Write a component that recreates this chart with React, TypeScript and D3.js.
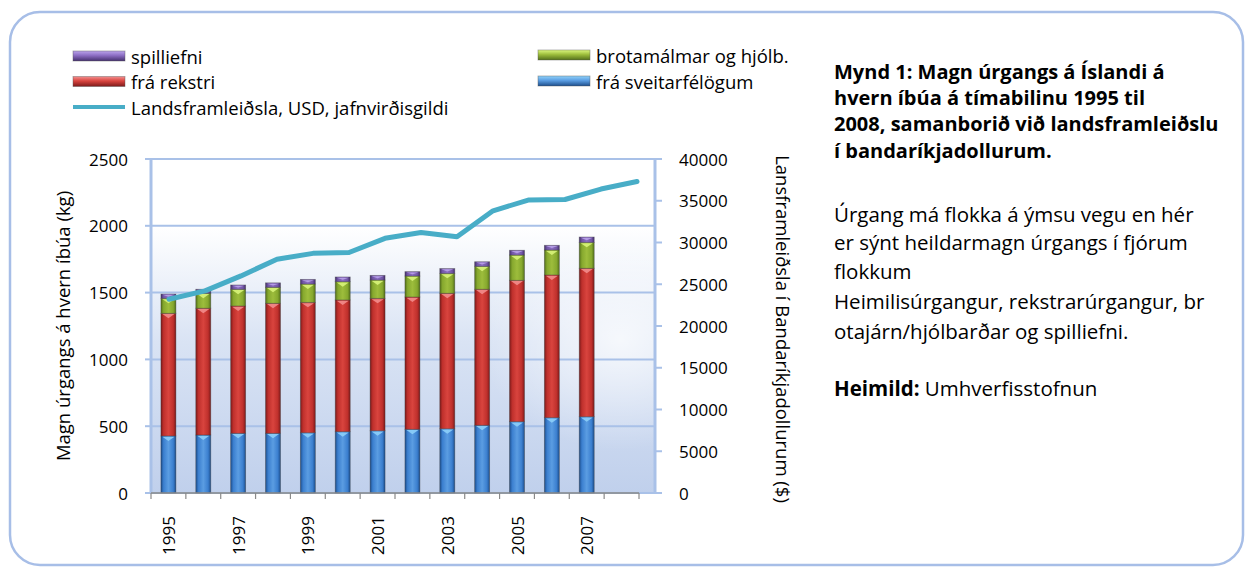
import React from 'react';
import * as d3 from 'd3';

// years on the category axis (2008 only has the GDP point)
const years = ['1995', '1996', '1997', '1998', '1999', '2000', '2001', '2002', '2003', '2004', '2005', '2006', '2007', '2008'];
const barYears = years.slice(0, 13);
const yearLabels = ['1995', '1997', '1999', '2001', '2003', '2005', '2007'];

// kg per inhabitant
const municipal = [427, 434, 447, 447, 451, 459, 466, 477, 481, 507, 534, 564, 571];
const business = [918, 949, 953, 973, 976, 986, 991, 990, 1014, 1018, 1058, 1068, 1111];
const scrap = [112, 112, 125, 120, 137, 137, 137, 157, 149, 172, 189, 187, 194];
const hazardous = [32, 30, 32, 33, 35, 35, 35, 33, 36, 34, 36, 35, 40];

// GDP per capita, USD PPP
const gdp = [23200, 24200, 26000, 28000, 28700, 28800, 30500, 31200, 30700, 33800, 35100, 35150, 36400, 37300];

const leftTicks = [0, 500, 1000, 1500, 2000, 2500];
const rightTicks = [0, 5000, 10000, 15000, 20000, 25000, 30000, 35000, 40000];

const SERIES = [
  { key: 'municipal', label: 'frá sveitarfélögum', dark: '#1d4e8c', mid: '#3b7fcf', light: '#5b9de2', hi: '#8fd2fa' },
  { key: 'business', label: 'frá rekstri', dark: '#7c1a1a', mid: '#bf302c', light: '#d9443e', hi: '#f39090' },
  { key: 'scrap', label: 'brotamálmar og hjólb.', dark: '#53701a', mid: '#86a82e', light: '#9dbd3c', hi: '#dcf77e' },
  { key: 'hazardous', label: 'spilliefni', dark: '#45306e', mid: '#7257a6', light: '#8b6dc2', hi: '#bba4ec' },
];

const LINE_LABEL = 'Landsframleiðsla, USD, jafnvirðisgildi';
const LINE_COLOR = '#48adc7';
const FONT = '"Open Sans", "Noto Sans", sans-serif';
const LABEL_SIZE = 18.5;

const W = 1253;
const H = 576;
const plot = { left: 151, right: 655, top: 159, bottom: 493 };

const App: React.FC = () => {
  const rows = barYears.map((y, i) => ({
    year: y,
    municipal: municipal[i],
    business: business[i],
    scrap: scrap[i],
    hazardous: hazardous[i],
  }));
  const stacked = d3.stack<any>().keys(SERIES.map((s) => s.key))(rows);

  const x = d3.scaleBand<string>().domain(years).range([plot.left, 639]).paddingInner(0.57).paddingOuter(0.285);
  const xLine = d3.scaleBand<string>().domain(years).range([plot.left, plot.right]);
  const yL = d3.scaleLinear().domain([0, 2500]).range([plot.bottom, plot.top]);
  const yR = d3.scaleLinear().domain([0, 40000]).range([plot.bottom, plot.top]);

  const line = d3
    .line<number>()
    .x((_, i) => xLine(years[i])! + xLine.bandwidth() / 2)
    .y((d) => yR(d));

  const bw = x.bandwidth();
  const boundaries = d3.range(years.length + 1).map((i) => x(years[0])! + bw / 2 - x.step() / 2 + i * x.step());

  const legendLeft = [
    { s: SERIES[3], y: 56 },
    { s: SERIES[1], y: 81.5 },
  ];
  const legendRight = [
    { s: SERIES[2], y: 55 },
    { s: SERIES[0], y: 81 },
  ];

  const swatch = (s: typeof SERIES[0], sx: number, sy: number) => (
    <rect x={sx} y={sy - 5} width={52} height={10} fill={`url(#lg-${s.key})`} stroke="#555" strokeOpacity={0.5} strokeWidth={0.8} />
  );

  return (
    <svg width={W} height={H} style={{ position: 'absolute', left: 0, top: 0 }} fontFamily={FONT}>
      <defs>
        {SERIES.map((s) => (
          <linearGradient key={s.key} id={`bar-${s.key}`} x1="0" x2="1" y1="0" y2="0">
            <stop offset="0" stopColor={s.dark} />
            <stop offset="0.18" stopColor={s.mid} />
            <stop offset="0.5" stopColor={s.light} />
            <stop offset="0.82" stopColor={s.mid} />
            <stop offset="1" stopColor={s.dark} />
          </linearGradient>
        ))}
        {SERIES.map((s) => (
          <linearGradient key={s.key} id={`lg-${s.key}`} x1="0" x2="0" y1="0" y2="1">
            <stop offset="0" stopColor={s.hi} />
            <stop offset="0.45" stopColor={s.light} />
            <stop offset="1" stopColor={s.dark} />
          </linearGradient>
        ))}
        <linearGradient id="plotbg" x1="0" x2="0" y1="0" y2="1">
          <stop offset="0" stopColor="#ffffff" />
          <stop offset="0.2" stopColor="#ffffff" />
          <stop offset="0.55" stopColor="#d9e3f4" />
          <stop offset="1" stopColor="#c0d0ec" />
        </linearGradient>
        <radialGradient id="plotglow" cx="0.5" cy="0.5" r="0.5">
          <stop offset="0" stopColor="#ffffff" stopOpacity={0.75} />
          <stop offset="1" stopColor="#ffffff" stopOpacity={0} />
        </radialGradient>
      </defs>

      <rect x={10} y={12} width={1233} height={553} rx={30} fill="#ffffff" stroke="#a7bee7" strokeWidth={2.5} />

      {/* plot area */}
      <rect x={plot.left} y={plot.top} width={plot.right - plot.left} height={plot.bottom - plot.top} fill="url(#plotbg)" />
      <ellipse cx={620} cy={340} rx={140} ry={110} fill="url(#plotglow)" />

      {leftTicks.map((t) => (
        <g key={t}>
          <line x1={plot.left} x2={plot.right} y1={yL(t)} y2={yL(t)} stroke="#a9c1e8" strokeWidth={2} />
          <line x1={145} x2={plot.left} y1={yL(t)} y2={yL(t)} stroke="#a9c1e8" strokeWidth={2} />
          <text x={128} y={yL(t)} textAnchor="end" dominantBaseline="central" fontSize={17} fill="#000">
            {t}
          </text>
        </g>
      ))}
      <line x1={plot.left} x2={plot.left} y1={plot.top} y2={plot.bottom} stroke="#a9c1e8" strokeWidth={3} />
      <line x1={plot.right} x2={plot.right} y1={plot.top} y2={plot.bottom} stroke="#a9c1e8" strokeWidth={3} />
      {rightTicks.map((t) => (
        <g key={t}>
          <line x1={plot.right} x2={662} y1={yR(t)} y2={yR(t)} stroke="#a9c1e8" strokeWidth={2} />
          <text x={679} y={yR(t)} dominantBaseline="central" fontSize={17} fill="#000">
            {t}
          </text>
        </g>
      ))}

      {/* bars */}
      {stacked.map((layer, li) => {
        const s = SERIES[li];
        return (
          <g key={s.key}>
            {layer.map((d) => {
              const x0 = x(d.data.year)!;
              const y0 = yL(d[1]);
              const h = yL(d[0]) - yL(d[1]);
              const cx = x0 + bw / 2;
              const tri = Math.min(5, h * 0.6);
              return (
                <g key={d.data.year}>
                  <rect x={x0} y={y0} width={bw} height={h} fill={`url(#bar-${s.key})`} stroke="#3a3a3a" strokeOpacity={0.45} strokeWidth={0.8} />
                  <path d={`M${x0 + 1.5},${y0 + 0.8} L${x0 + bw - 1.5},${y0 + 0.8} L${cx},${y0 + tri} Z`} fill={s.hi} opacity={0.85} />
                </g>
              );
            })}
          </g>
        );
      })}

      {/* category axis */}
      <line x1={plot.left} x2={boundaries[boundaries.length - 1]} y1={plot.bottom} y2={plot.bottom} stroke="#8a8a8a" strokeWidth={1.5} />
      {boundaries.map((b, i) => (
        <line key={i} x1={b} x2={b} y1={plot.bottom} y2={plot.bottom + 6} stroke="#8a8a8a" strokeWidth={1.2} />
      ))}
      {yearLabels.map((yr) => (
        <text
          key={yr}
          transform={`translate(${x(yr)! + bw / 2},516) rotate(-90)`}
          textAnchor="end"
          dominantBaseline="central"
          fontSize={17}
          fill="#000"
        >
          {yr}
        </text>
      ))}

      {/* GDP line */}
      <path d={line(gdp)!} fill="none" stroke={LINE_COLOR} strokeWidth={5} strokeLinejoin="round" strokeLinecap="round" />

      {/* axis titles */}
      <text transform="translate(62,326) rotate(-90)" textAnchor="middle" dominantBaseline="central" fontSize={LABEL_SIZE} fill="#000">
        Magn úrgangs á hvern íbúa (kg)
      </text>
      <text transform="translate(783,329) rotate(90)" textAnchor="middle" dominantBaseline="central" fontSize={LABEL_SIZE} fill="#000">
        Lansframleiðsla í Bandaríkjadollurum ($)
      </text>

      {/* legend */}
      {legendLeft.map(({ s, y }) => (
        <g key={s.key}>
          {swatch(s, 73, y)}
          <text x={131} y={y} dominantBaseline="central" fontSize={LABEL_SIZE} fill="#000">
            {s.label}
          </text>
        </g>
      ))}
      <line x1={73} x2={125} y1={107} y2={107} stroke={LINE_COLOR} strokeWidth={4} />
      <text x={131} y={107} dominantBaseline="central" fontSize={LABEL_SIZE} fill="#000">
        {LINE_LABEL}
      </text>
      {legendRight.map(({ s, y }) => (
        <g key={s.key}>
          {swatch(s, 538, y)}
          <text x={596} y={y} dominantBaseline="central" fontSize={LABEL_SIZE} fill="#000">
            {s.label}
          </text>
        </g>
      ))}

      {/* caption */}
      <g fontSize={20.5} fill="#000">
        <g fontWeight="bold" fontSize={20}>
          <text x={834} y={79}>Mynd 1: Magn úrgangs á Íslandi á</text>
          <text x={834} y={105}>hvern íbúa á tímabilinu 1995 til</text>
          <text x={834} y={131}>2008, samanborið við landsframleiðslu</text>
          <text x={834} y={158}>í bandaríkjadollurum.</text>
        </g>
        <text x={834} y={222}>Úrgang má flokka á ýmsu vegu en hér</text>
        <text x={834} y={250}>er sýnt heildarmagn úrgangs í fjórum</text>
        <text x={834} y={279}>flokkum</text>
        <text x={834} y={309}>Heimilisúrgangur, rekstrarúrgangur, br</text>
        <text x={834} y={339}>otajárn/hjólbarðar og spilliefni.</text>
        <text x={834} y={396}>
          <tspan fontWeight="bold">Heimild:</tspan> Umhverfisstofnun
        </text>
      </g>
    </svg>
  );
};

export default App;
